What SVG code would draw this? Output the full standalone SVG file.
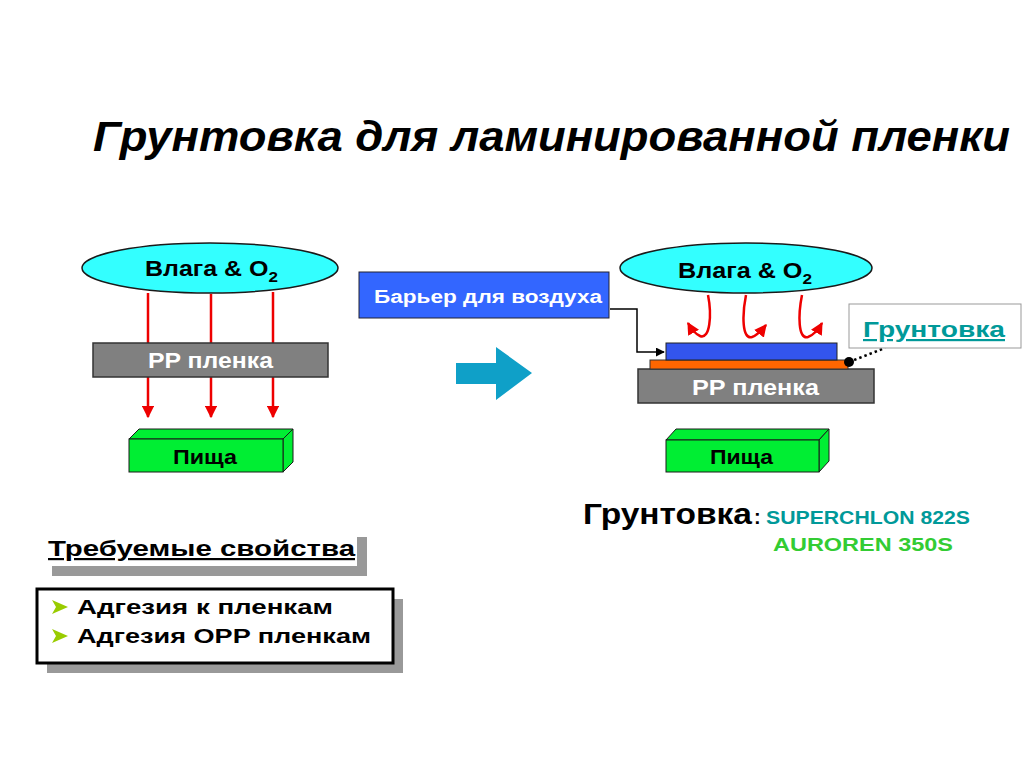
<svg xmlns="http://www.w3.org/2000/svg" width="1024" height="767" viewBox="0 0 1024 767">
<style>
text{font-family:"Liberation Sans",Arial,sans-serif;font-weight:bold}
.wt{fill:#fff}
.el{fill:#33FFFF;stroke:#1a1a1a;stroke-width:1.5}
.pp{fill:#808080;stroke:#333;stroke-width:1.5}
.gr{fill:#00EE33;stroke:#1a1a1a;stroke-width:1}
.red{stroke:#EE0000;stroke-width:2.5;fill:none}
</style>
<defs>
<marker id="ra" viewBox="0 0 10 10" refX="9" refY="5" markerWidth="5" markerHeight="5" orient="auto"><path d="M0,0 L10,5 L0,10 z" fill="#EE0000"/></marker>
<marker id="ka" viewBox="0 0 10 10" refX="9" refY="5" markerWidth="6" markerHeight="6" orient="auto"><path d="M0,0 L10,5 L0,10 z" fill="#000"/></marker>
</defs>
<rect width="1024" height="767" fill="#fff"/>
<text id="title" x="93" y="151" font-size="42" font-style="italic" textLength="917" lengthAdjust="spacingAndGlyphs">Грунтовка для ламинированной пленки</text>

<g id="connectors">
<line class="red" x1="148" y1="293" x2="148" y2="417" marker-end="url(#ra)"/>
<line class="red" x1="211" y1="294" x2="211" y2="417" marker-end="url(#ra)"/>
<line class="red" x1="273" y1="292" x2="273" y2="417" marker-end="url(#ra)"/>
<path d="M610,309 L637,309 L637,352 L664,352" fill="none" stroke="#000" stroke-width="1.5" marker-end="url(#ka)"/>
<path class="red" d="M708,295 C712,315 710,340 700,336 C695,334 692,330 688,323" marker-end="url(#ra)"/>
<path class="red" d="M746,295 C742,315 742,340 752,337 C758,335 762,330 766,325" marker-end="url(#ra)"/>
<path class="red" d="M802,295 C798,315 798,340 808,337 C814,335 818,330 822,323" marker-end="url(#ra)"/>
<line x1="849" y1="362" x2="885" y2="348" stroke="#000" stroke-width="2.5" stroke-dasharray="2.5,3"/>
</g>

<g id="left-moist"><ellipse class="el" cx="210" cy="268" rx="128" ry="25"/><text x="145" y="276" font-size="22" textLength="133" lengthAdjust="spacingAndGlyphs">Влага &amp; O<tspan font-size="15" dy="6">2</tspan></text></g>
<g id="left-pp"><rect class="pp" x="93" y="343" width="235" height="34"/><text class="wt" x="148" y="368" font-size="22" textLength="125" lengthAdjust="spacingAndGlyphs">PP пленка</text></g>
<g id="left-food"><path class="gr" d="M129,439 L139,429 L293,429 L283,439 Z"/><path class="gr" d="M283,439 L293,429 L293,462 L283,472 Z" fill="#00CC22"/><rect class="gr" x="129" y="439" width="154" height="33"/><text x="173" y="464" font-size="21" textLength="64" lengthAdjust="spacingAndGlyphs">Пища</text></g>

<g id="barrier"><rect x="359" y="272" width="250" height="46" fill="#3366FF" stroke="#223" stroke-width="1"/><text class="wt" x="374" y="303" font-size="18" textLength="228" lengthAdjust="spacingAndGlyphs">Барьер для воздуха</text></g>

<g id="big-arrow"><path d="M456,363 L496,363 L496,347 L532,373 L496,400 L496,384 L456,384 Z" fill="#0FA0C8"/></g>

<g id="right-moist"><ellipse class="el" cx="746" cy="268" rx="126" ry="25"/><text x="678" y="278" font-size="22" textLength="134" lengthAdjust="spacingAndGlyphs">Влага &amp; O<tspan font-size="15" dy="6">2</tspan></text></g>
<g id="right-layers"><rect x="638" y="369" width="236" height="34" fill="#808080" stroke="#333" stroke-width="1.5"/><rect x="650" y="360" width="198" height="9" fill="#FF6600" stroke="#333" stroke-width="1"/><rect x="666" y="343" width="171" height="17" fill="#3355EE" stroke="#222" stroke-width="1"/><text class="wt" x="692" y="395" font-size="22" textLength="127" lengthAdjust="spacingAndGlyphs">PP пленка</text></g>
<g id="right-food"><path class="gr" d="M666,440 L676,429 L829,429 L819,440 Z"/><path class="gr" d="M819,440 L829,429 L829,461 L819,472 Z" fill="#00CC22"/><rect class="gr" x="666" y="440" width="153" height="32"/><text x="710" y="464" font-size="21" textLength="63" lengthAdjust="spacingAndGlyphs">Пища</text></g>
<g id="primer-label"><rect x="849" y="304" width="172" height="44" fill="#fff" stroke="#999" stroke-width="1"/><text x="863" y="337" font-size="22" fill="#009999" text-decoration="underline" textLength="142" lengthAdjust="spacingAndGlyphs">Грунтовка</text><circle cx="849" cy="362" r="5" fill="#000"/></g>

<g id="req-title"><rect x="52" y="537" width="315" height="39" fill="#999"/><rect x="42" y="527" width="315" height="39" fill="#fff"/><text x="48" y="556" font-size="22" text-decoration="underline" textLength="307" lengthAdjust="spacingAndGlyphs">Требуемые свойства</text></g>
<g id="req-list"><rect x="47" y="599" width="356" height="74" fill="#999"/><rect x="37" y="589" width="356" height="74" fill="#fff" stroke="#000" stroke-width="3"/>
<path d="M52,600 L68,607 L52,614 L56,607 Z" fill="#99CC00"/><path d="M52,629 L68,636 L52,643 L56,636 Z" fill="#99CC00"/>
<text x="77" y="614" font-size="21" textLength="256" lengthAdjust="spacingAndGlyphs">Адгезия к пленкам</text>
<text x="77" y="643" font-size="21" textLength="294" lengthAdjust="spacingAndGlyphs">Адгезия OPP пленкам</text></g>

<g id="primer-info"><text x="583" y="524" font-size="29" textLength="169" lengthAdjust="spacingAndGlyphs">Грунтовка</text><text x="754" y="524" font-size="20">:</text><text x="766" y="524" font-size="18" fill="#009999" textLength="204" lengthAdjust="spacingAndGlyphs">SUPERCHLON 822S</text><text x="773" y="551" font-size="18" fill="#33CC33" textLength="180" lengthAdjust="spacingAndGlyphs">AUROREN 350S</text></g>
</svg>
